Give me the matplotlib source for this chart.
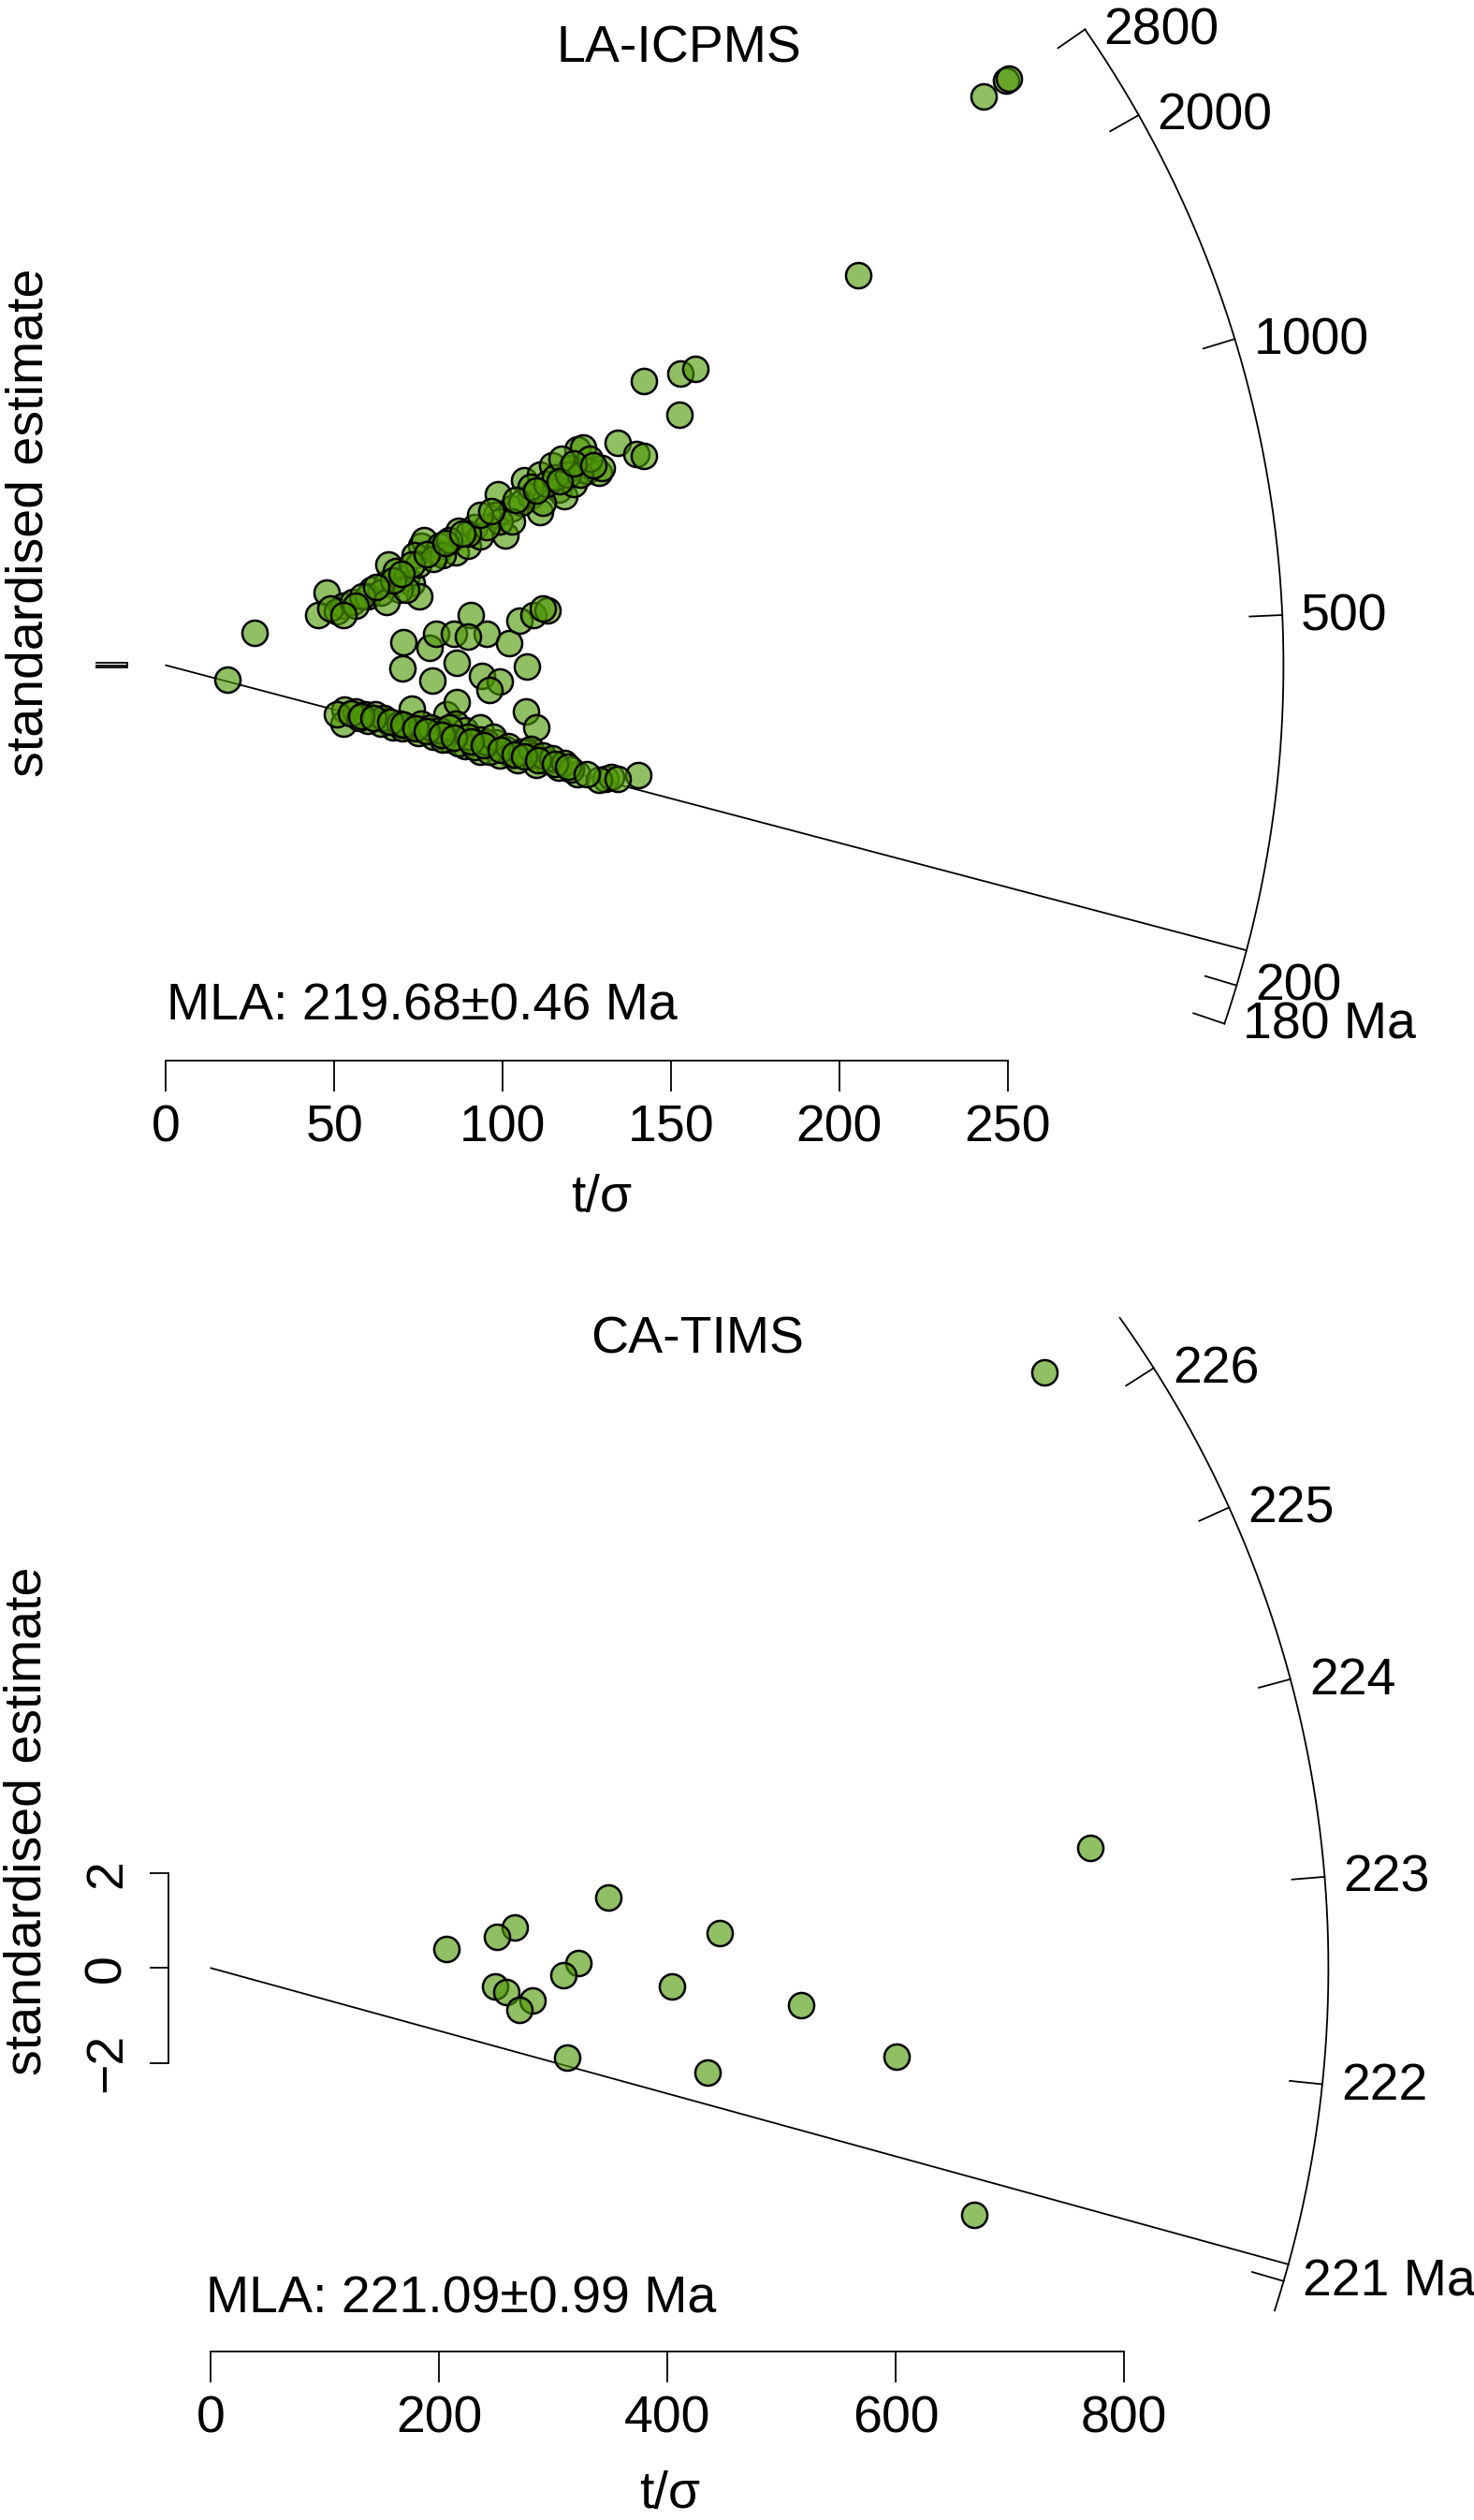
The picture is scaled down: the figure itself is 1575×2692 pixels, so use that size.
import numpy as np
import matplotlib
matplotlib.use("Agg")
import matplotlib.pyplot as plt
from matplotlib.transforms import offset_copy

plt.rcParams['font.family'] = ['Liberation Sans', 'DejaVu Sans']
FS = 40

# ---------------- data: LA-ICPMS ----------------
tsig_top = [142.0, 26.2, 18.1, 205.6, 242.8, 249.5, 250.4, 152.9, 157.3, 152.5,
            47.7, 45.2, 52.6, 50.8, 48.9, 55.4, 61.0, 60.0, 65.6, 66.1, 68.4, 71.2, 73.0, 75.3, 69.3,
            75.8, 76.7, 73.9, 74.9, 80.4, 81.3, 86.9, 86.0, 89.7, 91.5, 93.4, 98.5, 98.0, 100.8, 102.7,
            106.4, 108.2, 111.0, 111.0, 114.7, 116.6, 118.4, 121.2, 122.1, 124.0, 120.3, 124.9, 128.6,
            129.5, 134.2, 139.7, 142.0, 111.9, 105.4, 99.0, 95.2, 89.7, 82.3, 63.7, 58.2, 65.6, 71.2,
            108.2, 112.9, 115.6, 119.3, 123.0, 125.8, 117.5, 102.7, 93.4, 84.1, 79.5, 73.0, 67.4, 56.3, 52.6,
            62.5, 70.0, 77.5, 83.0, 88.0, 96.5, 104.0, 110.0, 117.0, 121.0, 127.0,
            70.4, 70.2, 78.4, 80.2, 85.5, 90.6, 95.2, 101.9, 105.0, 109.1, 113.3, 111.9, 86.4, 79.0,
            93.9, 99.0, 96.2, 107.1, 106.8, 110.1, 89.7,
            53.1, 52.6, 56.3, 59.1, 62.3, 65.6, 67.4, 73.0, 72.1, 76.7, 80.4, 83.2, 86.4, 86.0, 88.8,
            93.4, 93.4, 98.0, 100.8, 102.7, 107.3, 109.1, 112.9, 116.6, 122.1, 130.5, 132.3, 140.2,
            84.1, 79.5, 88.8, 93.4, 99.0, 74.9, 70.2, 63.7, 60.0, 104.5, 110.1, 82.3, 86.9, 91.5, 96.2,
            50.8, 57.3, 64.7, 69.3, 75.8, 78.6, 81.3, 84.1, 89.7, 95.2, 97.1, 101.7, 105.4, 108.2,
            111.9, 114.7, 118.4, 120.3, 128.6, 134.2,
            55.0, 58.0, 61.5, 66.5, 70.5, 74.0, 77.5, 82.0, 85.5, 90.5, 94.5, 99.5, 103.5, 106.5,
            110.5, 115.5, 119.5, 125.0]
z_top = [224.7, 25.7, -11.3, 308.8, 449.8, 462.6, 464.1, 230.6, 234.3, 198.0,
         57.3, 40.0, 47.4, 42.5, 45.0, 49.9, 59.8, 54.8, 64.7, 79.5, 74.6, 69.6, 64.7, 54.8, 59.8,
         94.3, 99.3, 86.9, 79.5, 89.4, 94.3, 106.7, 89.4, 94.3, 109.1, 101.7, 135.1, 119.0, 103.0, 124.0,
         146.2, 133.8, 151.1, 121.5, 158.5, 138.8, 133.8, 143.7, 170.9, 172.1, 156.0, 153.6, 152.3,
         156.0, 175.8, 167.2, 165.9, 128.9, 128.9, 114.1, 109.1, 104.2, 86.9, 57.3, 54.8, 49.9, 59.8,
         141.2, 143.7, 148.6, 151.1, 151.1, 163.4, 163.4, 114.1, 119.0, 99.3, 84.5, 79.5, 67.2, 47.4, 40.0,
         62.0, 72.0, 88.0, 97.0, 104.0, 122.0, 131.0, 138.0, 146.0, 160.0, 158.0,
         18.3, -2.4, 14.1, 25.2, 25.2, 40.0, 25.2, 17.8, 35.1, 40.0, 43.7, 45.0, 1.8, -11.8,
         -8.1, -13.0, -19.2, -0.7, -36.5, -48.8, 22.7,
         -35.3, -46.4, -36.5, -39.0, -39.0, -43.9, -48.8, -34.0, -48.8, -51.3, -53.8, -39.0, -29.1, -46.4, -51.3,
         -48.8, -58.7, -61.2, -66.1, -71.1, -68.6, -71.1, -76.0, -80.9, -85.9, -89.6, -88.3, -87.1,
         -58.7, -56.7, -63.6, -68.6, -71.1, -53.3, -50.1, -46.4, -43.9, -74.8, -78.5, -58.7, -61.7, -64.9, -68.6,
         -39.0, -41.4, -41.4, -46.4, -46.4, -48.8, -51.3, -48.8, -56.2, -61.2, -56.2, -63.6, -68.6, -66.1,
         -71.1, -73.5, -77.2, -82.2, -90.8, -89.6,
         -38.0, -40.5, -42.0, -45.0, -47.0, -49.5, -52.0, -55.0, -57.5, -60.0, -63.5, -66.5, -70.5, -72.0,
         -75.0, -78.0, -80.0, -86.0]
centre_age_top = 443.5
arc_range_top = [180, 2800]
arc_ticks_top = [180, 200, 500, 1000, 2000, 2800]
arc_labels_top = ['180 Ma', '200', '500', '1000', '2000', '2800']
mla_top = 219.68
mla_err_top = 0.46
xticks_top = [0, 50, 100, 150, 200, 250]

# ---------------- data: CA-TIMS ----------------
tsig_bot = [729.8, 770.0, 348.1, 445.4, 266.5, 250.2, 206.2, 322.0, 308.4, 404.1,
            249.1, 258.4, 281.8, 269.8, 516.6, 311.7, 434.6, 600.4, 668.9]
z_bot = [12.58, 2.54, 1.50, 0.73, 0.85, 0.66, 0.41, 0.11, -0.16, -0.39,
         -0.39, -0.51, -0.69, -0.88, -0.78, -1.89, -2.20, -1.87, -5.20]
centre_age_bot = 222.56
arc_range_bot = [220.84, 226.43]
arc_ticks_bot = [221, 222, 223, 224, 225, 226]
arc_labels_bot = ['221 Ma', '222', '223', '224', '225', '226']
mla_bot = 221.09
mla_err_bot = 0.99
xticks_bot = [0, 200, 400, 600, 800]

# ---------------- layout ----------------
W, H = 1575, 2692
fig = plt.figure(figsize=(W / 100, H / 100), dpi=100)
PX = 0.72  # points per pixel
FILL = (0.306, 0.596, 0.02, 0.62)
LW = 1.3
MS = 19.5


def fx(px):
    return px / W


def fy(py):
    return 1 - py / H


def panel(box, origin, rx, ry, tsig, z, centre, arc_range, arc_ticks, arc_labels,
          mla, mla_err, xticks, xaxis_py, yaxis_px, ytick_len, ylabels, title, title_xy,
          mla_xy, xlab_xy, ylab_xy, R=1194):
    l, t, r, b = box
    ox, oy = origin
    ax = fig.add_axes([fx(l), fy(b), (r - l) / W, (b - t) / H])
    ax.set_xlim((l - ox) / rx, (r - ox) / rx)
    ax.set_ylim((oy - b) / ry, (oy - t) / ry)
    ax.patch.set_alpha(0)
    k = ry / rx

    def ang(age):
        return np.arctan((np.log(age) - np.log(centre)) * k)

    th = np.linspace(ang(arc_range[0]), ang(arc_range[1]), 400)
    ax.plot(R * np.cos(th) / rx, R * np.sin(th) / ry, color='k', lw=LW, clip_on=False)
    lab_tr = offset_copy(ax.transData, fig=fig, x=20, y=-16, units='dots')
    for age, lab in zip(arc_ticks, arc_labels):
        a = ang(age)
        ax.plot([R * np.cos(a) / rx, (R - 35) * np.cos(a) / rx],
                [R * np.sin(a) / ry, (R - 35) * np.sin(a) / ry], color='k', lw=LW, clip_on=False)
        ax.text(R * np.cos(a) / rx, R * np.sin(a) / ry, lab, transform=lab_tr,
                ha='left', va='baseline', fontsize=FS)
    a = ang(mla)
    ax.plot([0, R * np.cos(a) / rx], [0, R * np.sin(a) / ry], color='k', lw=LW, clip_on=False)

    ax.scatter(tsig, z, s=(MS ** 2), facecolors=[FILL], edgecolors='k', linewidths=1.8,
               zorder=3, clip_on=False)

    for s in ['top', 'right']:
        ax.spines[s].set_visible(False)
    ax.spines['bottom'].set_position(('data', (oy - xaxis_py) / ry))
    ax.spines['bottom'].set_bounds(xticks[0], xticks[-1])
    ax.spines['left'].set_position(('data', (yaxis_px - ox) / rx))
    ax.spines['left'].set_bounds(-2, 2)
    for s in ['bottom', 'left']:
        ax.spines[s].set_linewidth(LW)
    ax.set_xticks(xticks)
    ax.set_xticklabels([str(v) for v in xticks])
    ax.set_yticks([-2, 0, 2])
    ax.set_yticklabels(['\u22122', '0', '2'] if ylabels else ['', '', ''])
    ax.tick_params(axis='x', direction='out', length=33 * PX, width=LW, labelsize=FS, pad=10)
    ax.tick_params(axis='y', direction='out', length=ytick_len * PX, width=LW, labelsize=FS,
                   pad=14, labelrotation=90)
    for tl in ax.get_yticklabels():
        tl.set_va('center')

    fig.text(fx(title_xy[0]), fy(title_xy[1]), title, ha='center', va='baseline', fontsize=FS)
    fig.text(fx(mla_xy[0]), fy(mla_xy[1]), f'MLA: {mla:.2f}\u00b1{mla_err:.2f} Ma',
             ha='left', va='baseline', fontsize=FS)
    fig.text(fx(xlab_xy[0]), fy(xlab_xy[1]), 't/\u03c3', ha='center', va='center', fontsize=FS)
    fig.text(fx(ylab_xy[0]), fy(ylab_xy[1]), 'standardised estimate', rotation=90,
             ha='center', va='center', fontsize=FS)
    return ax


panel((0, 0, W, 1340), (177.4, 710.7), 3.597, 1.3504, tsig_top, z_top, centre_age_top,
      arc_range_top, arc_ticks_top, arc_labels_top, mla_top, mla_err_top, xticks_top,
      1132.7, 136, 34, False, 'LA-ICPMS', (725, 66.7), (177.5, 1090), (643, 1280), (32, 558))

panel((0, 1350, W, H), (225.4, 2102.4), 1.2198, 50.6, tsig_bot, z_bot, centre_age_bot,
      arc_range_bot, arc_ticks_bot, arc_labels_bot, mla_bot, mla_err_bot, xticks_bot,
      2511.7, 180.3, 20, True, 'CA-TIMS', (745.5, 1446), (219.8, 2470.5), (715.7, 2664.6), (30, 1945))

fig.savefig('out.png', dpi=100)
